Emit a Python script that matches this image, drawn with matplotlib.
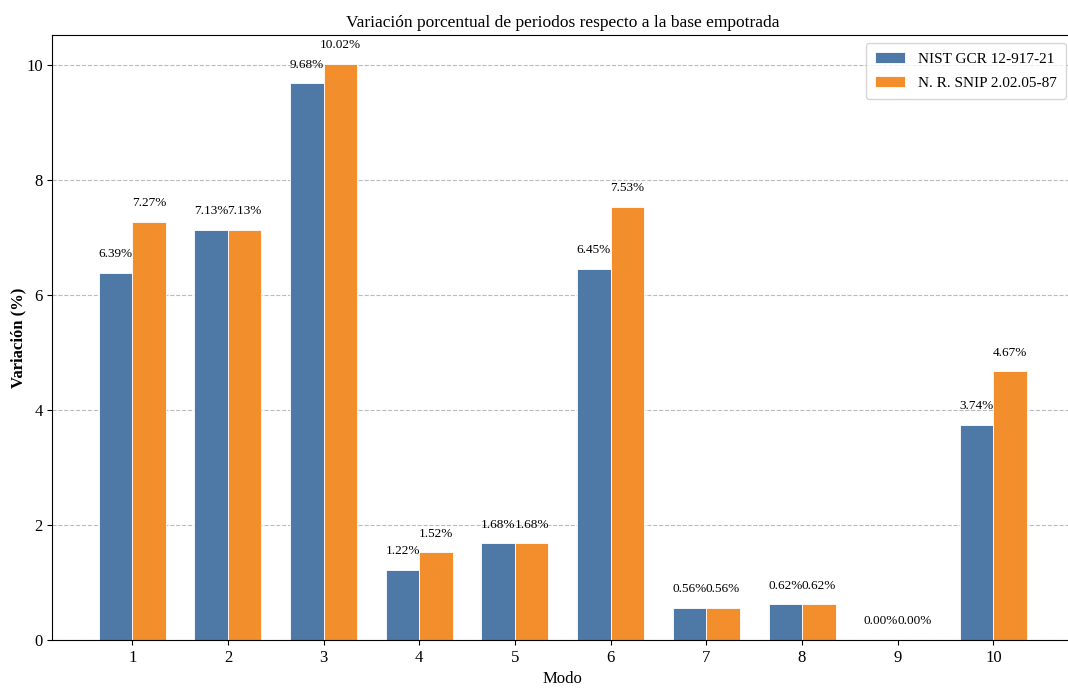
import numpy as np
import matplotlib.pyplot as plt

plt.rcParams['font.family'] = ['Liberation Serif', 'DejaVu Serif']

# Variación de periodos por modo
modos = np.arange(1, 11)
nist = [6.39, 7.13, 9.68, 1.22, 1.68, 6.45, 0.56, 0.62, 0.00, 3.74]
snip = [7.27, 7.13, 10.02, 1.52, 1.68, 7.53, 0.56, 0.62, 0.00, 4.67]

ancho = 0.35
c_nist = '#4e79a7'
c_snip = '#f28e2b'

fig = plt.figure(figsize=(10.68, 6.88), dpi=100)
ax = fig.add_axes([0.049, 0.07, 0.956, 0.879])

b1 = ax.bar(modos - ancho / 2, nist, ancho, color=c_nist, edgecolor='white',
            linewidth=0.6, label='NIST GCR 12-917-21')
b2 = ax.bar(modos + ancho / 2, snip, ancho, color=c_snip, edgecolor='white',
            linewidth=0.6, label='N. R. SNIP 2.02.05-87')

# Etiquetas de porcentaje sobre cada barra
for barras in (b1, b2):
    for b in barras:
        h = b.get_height()
        ax.text(b.get_x() + b.get_width() / 2, h + 0.22, f'{h:.2f}%',
                ha='center', va='bottom', fontsize=9.5)

ax.set_xticks(modos)
ax.set_xlabel('Modo', fontsize=12, labelpad=4)
ax.set_ylabel('Variación (%)', fontsize=12, fontweight='bold')
ax.yaxis.set_label_coords(-0.025, 0.5)
ax.set_title('Variación porcentual de periodos respecto a la base empotrada', fontsize=12.5)
ax.tick_params(labelsize=12)
ax.yaxis.grid(True, linestyle='--', color='#bbbbbb', linewidth=0.8)
ax.set_axisbelow(True)
ax.legend(loc='upper right', fontsize=11, borderpad=0.6, labelspacing=0.7)

fig.savefig('out.png', dpi=100)
